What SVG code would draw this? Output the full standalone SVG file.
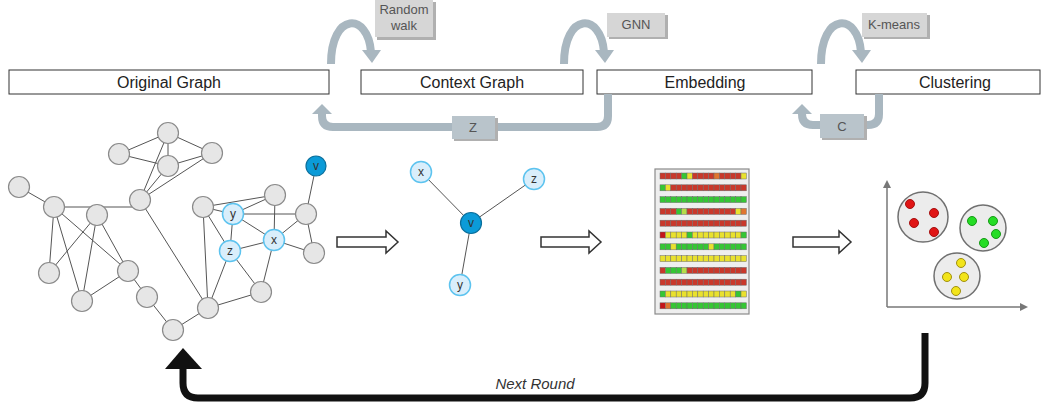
<svg xmlns="http://www.w3.org/2000/svg" width="1048" height="410" viewBox="0 0 1048 410">
<defs>
<style>
.hdr{fill:#fff;stroke:#333;stroke-width:1}
.ht{font-family:"Liberation Sans",Arial,sans-serif;font-size:16px;fill:#222;text-anchor:middle}
.lbl{fill:#d6d6d6}
.lblsh{fill:#b0b0b0}
.lt{font-family:"Liberation Sans",Arial,sans-serif;font-size:13px;fill:#555;text-anchor:middle}
.flow{fill:none;stroke:#a9b7c0;stroke-width:8}
.flowhead{fill:#a9b7c0}
.zbox{fill:#b9c4cb}
.e{stroke:#555;stroke-width:1}
.n{fill:#e6e6e6;stroke:#8a8a8a;stroke-width:1.2}
.lb{fill:#d9eefb;stroke:#5cc3ef;stroke-width:1.5}
.db{fill:#0b9bd8;stroke:#0a6f9c;stroke-width:1.2}
.nt{font-family:"Liberation Sans",Arial,sans-serif;font-size:12px;fill:#333;text-anchor:middle}
.hollow{fill:#fff;stroke:#333;stroke-width:1.5}
.R{fill:#c9382b}.G{fill:#35c634}.Y{fill:#e9e12e}.O{fill:#e0752f}.L{fill:#b6dc4a}.D{fill:#c4141a}
.row rect{stroke:#6e6e6e;stroke-width:0.5}
.cl{fill:#ececec;stroke:#707070;stroke-width:1.5}
.rd{fill:#e01515;stroke:#a51010}
.gd{fill:#25dd25;stroke:#159915}
.yd{fill:#f2e41a;stroke:#a09010}
.ax{stroke:#777;stroke-width:1.5}
</style>
<marker id="axh" markerWidth="8" markerHeight="8" refX="6" refY="4" orient="auto" markerUnits="userSpaceOnUse"><path d="M0,0 L8,4 L0,8 z" fill="#777"/></marker>
</defs>
<rect width="1048" height="410" fill="#fff"/>

<!-- headers -->
<g id="hdr-original"><rect class="hdr" x="9" y="70" width="320" height="24"/><text class="ht" x="169" y="88">Original Graph</text></g>
<g id="hdr-context"><rect class="hdr" x="361" y="70" width="222" height="24"/><text class="ht" x="472" y="88">Context Graph</text></g>
<g id="hdr-embedding"><rect class="hdr" x="597" y="70" width="215" height="24"/><text class="ht" x="705" y="88">Embedding</text></g>
<g id="hdr-clustering"><rect class="hdr" x="856" y="70" width="184" height="24"/><text class="ht" x="955" y="88">Clustering</text></g>

<!-- process arrows -->
<g id="connectors">
<g id="rw-arc"><path class="flow" d="M331 64 C331 12 368 12 371 52"/><polygon class="flowhead" points="362,50 381,50 372,63"/></g>
<g id="gnn-arc"><path class="flow" d="M564 64 C564 12 601 12 604 52"/><polygon class="flowhead" points="595,50 614,50 605,63"/></g>
<g id="km-arc"><path class="flow" d="M821 64 C821 12 858 12 861 52"/><polygon class="flowhead" points="852,50 871,50 862,63"/></g>
<g id="z-path"><path class="flow" d="M608 94 V116 Q608 127 597 127 H333 Q322 127 322 116 V112"/><polygon class="flowhead" points="312,114 332,114 322,104"/></g>
<g id="c-path"><path class="flow" d="M879 94 V114 Q879 125 868 125 H813 Q802 125 802 114 V112"/><polygon class="flowhead" points="792,114 812,114 802,104"/></g>
<g id="next-round"><path d="M925 333 V383 Q925 398 910 398 H198 Q183 398 183 383 V364" fill="none" stroke="#111" stroke-width="7"/><polygon points="165,369 202,369 183,348" fill="#111"/></g>
<g id="hollow-arrows">
<polygon class="hollow" points="337,237 386,237 386,231 398,242 386,253 386,247 337,247"/>
<polygon class="hollow" points="541,237 589,237 589,231 601,242 589,253 589,247 541,247"/>
<polygon class="hollow" points="793,237 839,237 839,231 851,242 839,253 839,247 793,247"/>
</g>
</g>
<text x="535" y="389" font-family="Liberation Sans,Arial,sans-serif" font-size="15" font-style="italic" fill="#333" text-anchor="middle">Next Round</text>

<!-- labels -->
<g id="lbl-rw"><rect class="lblsh" x="377" y="2" width="59" height="38"/><rect class="lbl" x="375" y="0" width="58" height="37"/><text class="lt" x="404" y="14">Random</text><text class="lt" x="404" y="30">walk</text></g>
<g id="lbl-gnn"><rect class="lblsh" x="609" y="15" width="59" height="24"/><rect class="lbl" x="607" y="13" width="58" height="24"/><text class="lt" x="636" y="29">GNN</text></g>
<g id="lbl-km"><rect class="lblsh" x="864" y="15" width="66" height="24"/><rect class="lbl" x="862" y="13" width="65" height="24"/><text class="lt" x="894" y="29">K-means</text></g>
<g id="lbl-z"><rect class="lblsh" x="454" y="118" width="44" height="23"/><rect class="zbox" x="452" y="116" width="43" height="23"/><text class="lt" x="473" y="132">Z</text></g>
<g id="lbl-c"><rect class="lblsh" x="822" y="116" width="45" height="24"/><rect class="zbox" x="820" y="114" width="44" height="24"/><text class="lt" x="842" y="131">C</text></g>

<!-- original graph -->
<g id="original-graph">
<g id="og-edges">
<line class="e" x1="168" y1="133" x2="119" y2="154"/>
<line class="e" x1="168" y1="133" x2="212" y2="153"/>
<line class="e" x1="168" y1="133" x2="168" y2="166"/>
<line class="e" x1="119" y1="154" x2="168" y2="166"/>
<line class="e" x1="168" y1="166" x2="212" y2="153"/>
<line class="e" x1="140" y1="200" x2="168" y2="133"/>
<line class="e" x1="140" y1="200" x2="168" y2="166"/>
<line class="e" x1="140" y1="200" x2="212" y2="153"/>
<line class="e" x1="19" y1="187" x2="54" y2="207"/>
<line class="e" x1="54" y1="207" x2="140" y2="207"/>
<line class="e" x1="54" y1="207" x2="49" y2="273"/>
<line class="e" x1="54" y1="207" x2="82" y2="301"/>
<line class="e" x1="54" y1="207" x2="128" y2="271"/>
<line class="e" x1="97" y1="215" x2="49" y2="273"/>
<line class="e" x1="97" y1="215" x2="82" y2="301"/>
<line class="e" x1="97" y1="215" x2="128" y2="271"/>
<line class="e" x1="128" y1="271" x2="82" y2="301"/>
<line class="e" x1="128" y1="271" x2="147" y2="297"/>
<line class="e" x1="147" y1="297" x2="173" y2="330"/>
<line class="e" x1="173" y1="330" x2="208" y2="308"/>
<line class="e" x1="140" y1="200" x2="208" y2="308"/>
<line class="e" x1="203" y1="207" x2="208" y2="308"/>
<line class="e" x1="203" y1="207" x2="233" y2="214"/>
<line class="e" x1="203" y1="207" x2="275" y2="195"/>
<line class="e" x1="203" y1="207" x2="230" y2="251"/>
<line class="e" x1="233" y1="214" x2="306" y2="214"/>
<line class="e" x1="233" y1="214" x2="274" y2="240"/>
<line class="e" x1="233" y1="214" x2="230" y2="251"/>
<line class="e" x1="233" y1="214" x2="275" y2="195"/>
<line class="e" x1="275" y1="195" x2="274" y2="240"/>
<line class="e" x1="230" y1="251" x2="274" y2="240"/>
<line class="e" x1="230" y1="251" x2="208" y2="308"/>
<line class="e" x1="230" y1="251" x2="261" y2="292"/>
<line class="e" x1="274" y1="240" x2="306" y2="214"/>
<line class="e" x1="274" y1="240" x2="314" y2="253"/>
<line class="e" x1="274" y1="240" x2="261" y2="292"/>
<line class="e" x1="306" y1="214" x2="316" y2="166"/>
<line class="e" x1="306" y1="214" x2="314" y2="253"/>
<line class="e" x1="208" y1="308" x2="261" y2="292"/>
</g>
<g id="og-nodes">
<circle class="n" cx="168" cy="133" r="10.5"/>
<circle class="n" cx="119" cy="154" r="10.5"/>
<circle class="n" cx="212" cy="153" r="10.5"/>
<circle class="n" cx="168" cy="166" r="10.5"/>
<circle class="n" cx="19" cy="187" r="10.5"/>
<circle class="n" cx="54" cy="207" r="10.5"/>
<circle class="n" cx="97" cy="215" r="10.5"/>
<circle class="n" cx="140" cy="200" r="10.5"/>
<circle class="n" cx="203" cy="207" r="10.5"/>
<circle class="n" cx="275" cy="195" r="10.5"/>
<circle class="n" cx="306" cy="214" r="10.5"/>
<circle class="n" cx="314" cy="253" r="10.5"/>
<circle class="n" cx="49" cy="273" r="10.5"/>
<circle class="n" cx="128" cy="271" r="10.5"/>
<circle class="n" cx="82" cy="301" r="10.5"/>
<circle class="n" cx="147" cy="297" r="10.5"/>
<circle class="n" cx="261" cy="292" r="10.5"/>
<circle class="n" cx="208" cy="308" r="10.5"/>
<circle class="n" cx="173" cy="330" r="10.5"/>
<g id="og-y"><circle class="lb" cx="233" cy="214" r="10.5"/><text class="nt" x="233" y="218">y</text></g>
<g id="og-z"><circle class="lb" cx="230" cy="251" r="10.5"/><text class="nt" x="230" y="255">z</text></g>
<g id="og-x"><circle class="lb" cx="274" cy="240" r="10.5"/><text class="nt" x="274" y="244">x</text></g>
<g id="og-v"><circle class="db" cx="316" cy="166" r="10"/><text class="nt" x="316" y="170" fill="#113">v</text></g>
</g>
</g>

<!-- context graph -->
<g id="context-graph">
<line class="e" x1="471" y1="223" x2="421" y2="172" stroke="#666"/>
<line class="e" x1="471" y1="223" x2="534" y2="179" stroke="#666"/>
<line class="e" x1="471" y1="223" x2="460" y2="285" stroke="#666"/>
<g id="cg-x"><circle class="lb" cx="421" cy="172" r="10.5"/><text class="nt" x="421" y="176">x</text></g>
<g id="cg-z"><circle class="lb" cx="534" cy="179" r="10.5"/><text class="nt" x="534" y="183">z</text></g>
<g id="cg-y"><circle class="lb" cx="460" cy="285" r="10.5"/><text class="nt" x="460" y="289">y</text></g>
<g id="cg-v"><circle class="db" cx="471" cy="223" r="10.5"/><text class="nt" x="471" y="227" fill="#113">v</text></g>
</g>

<!-- embedding -->
<g id="embedding">
<rect x="655" y="169" width="94" height="145" fill="#eeeeee" stroke="#8a8a8a" stroke-width="1.2"/>
<g class="row" transform="translate(660,173)"><rect class="R" x="0" width="5.4" height="6"/><rect class="R" x="5.4" width="5.4" height="6"/><rect class="R" x="10.8" width="5.4" height="6"/><rect class="R" x="16.2" width="5.4" height="6"/><rect class="G" x="21.6" width="5.4" height="6"/><rect class="Y" x="27" width="5.4" height="6"/><rect class="R" x="32.4" width="5.4" height="6"/><rect class="R" x="37.8" width="5.4" height="6"/><rect class="R" x="43.2" width="5.4" height="6"/><rect class="R" x="48.6" width="5.4" height="6"/><rect class="O" x="54" width="5.4" height="6"/><rect class="R" x="59.4" width="5.4" height="6"/><rect class="R" x="64.8" width="5.4" height="6"/><rect class="R" x="70.2" width="5.4" height="6"/><rect class="R" x="75.6" width="5.4" height="6"/><rect class="Y" x="81" width="5.4" height="6"/></g>
<g class="row" transform="translate(660,184.8)"><rect class="G" x="0" width="5.4" height="6"/><rect class="Y" x="5.4" width="5.4" height="6"/><rect class="R" x="10.8" width="5.4" height="6"/><rect class="R" x="16.2" width="5.4" height="6"/><rect class="R" x="21.6" width="5.4" height="6"/><rect class="R" x="27" width="5.4" height="6"/><rect class="R" x="32.4" width="5.4" height="6"/><rect class="R" x="37.8" width="5.4" height="6"/><rect class="R" x="43.2" width="5.4" height="6"/><rect class="R" x="48.6" width="5.4" height="6"/><rect class="R" x="54" width="5.4" height="6"/><rect class="R" x="59.4" width="5.4" height="6"/><rect class="R" x="64.8" width="5.4" height="6"/><rect class="R" x="70.2" width="5.4" height="6"/><rect class="R" x="75.6" width="5.4" height="6"/><rect class="R" x="81" width="5.4" height="6"/></g>
<g class="row" transform="translate(660,196.6)"><rect class="G" x="0" width="5.4" height="6"/><rect class="G" x="5.4" width="5.4" height="6"/><rect class="G" x="10.8" width="5.4" height="6"/><rect class="G" x="16.2" width="5.4" height="6"/><rect class="G" x="21.6" width="5.4" height="6"/><rect class="G" x="27" width="5.4" height="6"/><rect class="G" x="32.4" width="5.4" height="6"/><rect class="G" x="37.8" width="5.4" height="6"/><rect class="G" x="43.2" width="5.4" height="6"/><rect class="G" x="48.6" width="5.4" height="6"/><rect class="G" x="54" width="5.4" height="6"/><rect class="G" x="59.4" width="5.4" height="6"/><rect class="G" x="64.8" width="5.4" height="6"/><rect class="G" x="70.2" width="5.4" height="6"/><rect class="G" x="75.6" width="5.4" height="6"/><rect class="G" x="81" width="5.4" height="6"/></g>
<g class="row" transform="translate(660,208.4)"><rect class="R" x="0" width="5.4" height="6"/><rect class="R" x="5.4" width="5.4" height="6"/><rect class="R" x="10.8" width="5.4" height="6"/><rect class="G" x="16.2" width="5.4" height="6"/><rect class="L" x="21.6" width="5.4" height="6"/><rect class="R" x="27" width="5.4" height="6"/><rect class="R" x="32.4" width="5.4" height="6"/><rect class="R" x="37.8" width="5.4" height="6"/><rect class="R" x="43.2" width="5.4" height="6"/><rect class="R" x="48.6" width="5.4" height="6"/><rect class="R" x="54" width="5.4" height="6"/><rect class="R" x="59.4" width="5.4" height="6"/><rect class="R" x="64.8" width="5.4" height="6"/><rect class="R" x="70.2" width="5.4" height="6"/><rect class="Y" x="75.6" width="5.4" height="6"/><rect class="O" x="81" width="5.4" height="6"/></g>
<g class="row" transform="translate(660,220.2)"><rect class="R" x="0" width="5.4" height="6"/><rect class="R" x="5.4" width="5.4" height="6"/><rect class="R" x="10.8" width="5.4" height="6"/><rect class="R" x="16.2" width="5.4" height="6"/><rect class="R" x="21.6" width="5.4" height="6"/><rect class="R" x="27" width="5.4" height="6"/><rect class="R" x="32.4" width="5.4" height="6"/><rect class="R" x="37.8" width="5.4" height="6"/><rect class="R" x="43.2" width="5.4" height="6"/><rect class="R" x="48.6" width="5.4" height="6"/><rect class="R" x="54" width="5.4" height="6"/><rect class="R" x="59.4" width="5.4" height="6"/><rect class="R" x="64.8" width="5.4" height="6"/><rect class="R" x="70.2" width="5.4" height="6"/><rect class="R" x="75.6" width="5.4" height="6"/><rect class="R" x="81" width="5.4" height="6"/></g>
<g class="row" transform="translate(660,232)"><rect class="D" x="0" width="5.4" height="6"/><rect class="Y" x="5.4" width="5.4" height="6"/><rect class="Y" x="10.8" width="5.4" height="6"/><rect class="Y" x="16.2" width="5.4" height="6"/><rect class="Y" x="21.6" width="5.4" height="6"/><rect class="G" x="27" width="5.4" height="6"/><rect class="Y" x="32.4" width="5.4" height="6"/><rect class="Y" x="37.8" width="5.4" height="6"/><rect class="Y" x="43.2" width="5.4" height="6"/><rect class="Y" x="48.6" width="5.4" height="6"/><rect class="Y" x="54" width="5.4" height="6"/><rect class="Y" x="59.4" width="5.4" height="6"/><rect class="Y" x="64.8" width="5.4" height="6"/><rect class="Y" x="70.2" width="5.4" height="6"/><rect class="Y" x="75.6" width="5.4" height="6"/><rect class="G" x="81" width="5.4" height="6"/></g>
<g class="row" transform="translate(660,243.8)"><rect class="G" x="0" width="5.4" height="6"/><rect class="G" x="5.4" width="5.4" height="6"/><rect class="Y" x="10.8" width="5.4" height="6"/><rect class="G" x="16.2" width="5.4" height="6"/><rect class="G" x="21.6" width="5.4" height="6"/><rect class="G" x="27" width="5.4" height="6"/><rect class="G" x="32.4" width="5.4" height="6"/><rect class="G" x="37.8" width="5.4" height="6"/><rect class="G" x="43.2" width="5.4" height="6"/><rect class="Y" x="48.6" width="5.4" height="6"/><rect class="G" x="54" width="5.4" height="6"/><rect class="G" x="59.4" width="5.4" height="6"/><rect class="G" x="64.8" width="5.4" height="6"/><rect class="G" x="70.2" width="5.4" height="6"/><rect class="G" x="75.6" width="5.4" height="6"/><rect class="G" x="81" width="5.4" height="6"/></g>
<g class="row" transform="translate(660,255.6)"><rect class="Y" x="0" width="5.4" height="6"/><rect class="Y" x="5.4" width="5.4" height="6"/><rect class="Y" x="10.8" width="5.4" height="6"/><rect class="Y" x="16.2" width="5.4" height="6"/><rect class="Y" x="21.6" width="5.4" height="6"/><rect class="Y" x="27" width="5.4" height="6"/><rect class="Y" x="32.4" width="5.4" height="6"/><rect class="Y" x="37.8" width="5.4" height="6"/><rect class="Y" x="43.2" width="5.4" height="6"/><rect class="Y" x="48.6" width="5.4" height="6"/><rect class="Y" x="54" width="5.4" height="6"/><rect class="Y" x="59.4" width="5.4" height="6"/><rect class="Y" x="64.8" width="5.4" height="6"/><rect class="Y" x="70.2" width="5.4" height="6"/><rect class="Y" x="75.6" width="5.4" height="6"/><rect class="Y" x="81" width="5.4" height="6"/></g>
<g class="row" transform="translate(660,267.4)"><rect class="R" x="0" width="5.4" height="6"/><rect class="G" x="5.4" width="5.4" height="6"/><rect class="G" x="10.8" width="5.4" height="6"/><rect class="G" x="16.2" width="5.4" height="6"/><rect class="L" x="21.6" width="5.4" height="6"/><rect class="R" x="27" width="5.4" height="6"/><rect class="R" x="32.4" width="5.4" height="6"/><rect class="R" x="37.8" width="5.4" height="6"/><rect class="R" x="43.2" width="5.4" height="6"/><rect class="R" x="48.6" width="5.4" height="6"/><rect class="R" x="54" width="5.4" height="6"/><rect class="R" x="59.4" width="5.4" height="6"/><rect class="R" x="64.8" width="5.4" height="6"/><rect class="R" x="70.2" width="5.4" height="6"/><rect class="R" x="75.6" width="5.4" height="6"/><rect class="R" x="81" width="5.4" height="6"/></g>
<g class="row" transform="translate(660,279.2)"><rect class="R" x="0" width="5.4" height="6"/><rect class="R" x="5.4" width="5.4" height="6"/><rect class="R" x="10.8" width="5.4" height="6"/><rect class="R" x="16.2" width="5.4" height="6"/><rect class="R" x="21.6" width="5.4" height="6"/><rect class="R" x="27" width="5.4" height="6"/><rect class="R" x="32.4" width="5.4" height="6"/><rect class="R" x="37.8" width="5.4" height="6"/><rect class="R" x="43.2" width="5.4" height="6"/><rect class="R" x="48.6" width="5.4" height="6"/><rect class="R" x="54" width="5.4" height="6"/><rect class="R" x="59.4" width="5.4" height="6"/><rect class="R" x="64.8" width="5.4" height="6"/><rect class="R" x="70.2" width="5.4" height="6"/><rect class="R" x="75.6" width="5.4" height="6"/><rect class="R" x="81" width="5.4" height="6"/></g>
<g class="row" transform="translate(660,291)"><rect class="G" x="0" width="5.4" height="6"/><rect class="Y" x="5.4" width="5.4" height="6"/><rect class="Y" x="10.8" width="5.4" height="6"/><rect class="Y" x="16.2" width="5.4" height="6"/><rect class="Y" x="21.6" width="5.4" height="6"/><rect class="Y" x="27" width="5.4" height="6"/><rect class="Y" x="32.4" width="5.4" height="6"/><rect class="Y" x="37.8" width="5.4" height="6"/><rect class="Y" x="43.2" width="5.4" height="6"/><rect class="Y" x="48.6" width="5.4" height="6"/><rect class="Y" x="54" width="5.4" height="6"/><rect class="Y" x="59.4" width="5.4" height="6"/><rect class="Y" x="64.8" width="5.4" height="6"/><rect class="Y" x="70.2" width="5.4" height="6"/><rect class="G" x="75.6" width="5.4" height="6"/><rect class="Y" x="81" width="5.4" height="6"/></g>
<g class="row" transform="translate(660,302.8)"><rect class="D" x="0" width="5.4" height="6"/><rect class="O" x="5.4" width="5.4" height="6"/><rect class="G" x="10.8" width="5.4" height="6"/><rect class="G" x="16.2" width="5.4" height="6"/><rect class="G" x="21.6" width="5.4" height="6"/><rect class="G" x="27" width="5.4" height="6"/><rect class="G" x="32.4" width="5.4" height="6"/><rect class="G" x="37.8" width="5.4" height="6"/><rect class="G" x="43.2" width="5.4" height="6"/><rect class="G" x="48.6" width="5.4" height="6"/><rect class="G" x="54" width="5.4" height="6"/><rect class="G" x="59.4" width="5.4" height="6"/><rect class="G" x="64.8" width="5.4" height="6"/><rect class="G" x="70.2" width="5.4" height="6"/><rect class="G" x="75.6" width="5.4" height="6"/><rect class="G" x="81" width="5.4" height="6"/></g>
</g>

<!-- clustering -->
<g id="clustering">
<line class="ax" x1="887" y1="307" x2="887" y2="182" marker-end="url(#axh)"/>
<line class="ax" x1="887" y1="307" x2="1026" y2="307" marker-end="url(#axh)"/>
<g id="cluster-red"><circle class="cl" cx="923" cy="217" r="25"/><circle class="rd" cx="910" cy="204" r="4.5"/><circle class="rd" cx="934" cy="213" r="4.5"/><circle class="rd" cx="914" cy="223" r="4.5"/><circle class="rd" cx="934" cy="232" r="4.5"/></g>
<g id="cluster-green"><circle class="cl" cx="983" cy="228" r="23"/><circle class="gd" cx="972" cy="221" r="4.5"/><circle class="gd" cx="993" cy="221" r="4.5"/><circle class="gd" cx="996" cy="234" r="4.5"/><circle class="gd" cx="984" cy="243" r="4.5"/></g>
<g id="cluster-yellow"><circle class="cl" cx="957" cy="276" r="23"/><circle class="yd" cx="961" cy="263" r="4.5"/><circle class="yd" cx="947" cy="277" r="4.5"/><circle class="yd" cx="964" cy="277" r="4.5"/><circle class="yd" cx="956" cy="291" r="4.5"/></g>
</g>
</svg>
